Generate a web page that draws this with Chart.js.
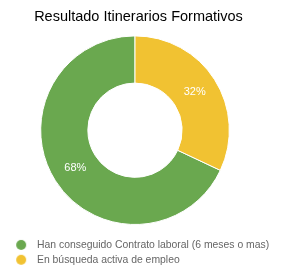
<!DOCTYPE html>
<html>
<head>
<meta charset="utf-8">
<script src="https://cdn.jsdelivr.net/npm/chart.js@4"></script>
<style>
html,body{margin:0;padding:0;background:#fff;}
#wrap{width:285px;height:272px;position:relative;}
</style>
</head>
<body>
<div id="wrap"><canvas id="c"></canvas></div>
<script>
const chartTitle = "Resultado Itinerarios Formativos";
const categories = ["Han conseguido Contrato laboral (6 meses o mas)", "En búsqueda activa de empleo"];
const values = [68, 32];
const colors = ["#6aa84f", "#f1c232"];

const FONT = '"Liberation Sans", Arial, sans-serif';

function dot(color) {
  const c = document.createElement('canvas');
  c.width = 12; c.height = 12;
  const g = c.getContext('2d');
  g.fillStyle = color;
  g.beginPath();
  g.arc(6, 6, 5, 0, Math.PI * 2);
  g.fill();
  return c;
}
const dots = colors.map(dot);

const pctLabels = {
  id: 'pctLabels',
  afterDatasetsDraw(chart) {
    const ctx = chart.ctx;
    const meta = chart.getDatasetMeta(0);
    const total = values.reduce((a, b) => a + b, 0);
    ctx.save();
    ctx.fillStyle = '#ffffff';
    ctx.font = '11px ' + FONT;
    ctx.textAlign = 'center';
    ctx.textBaseline = 'middle';
    meta.data.forEach((arc, i) => {
      const p = arc.getCenterPoint();
      ctx.fillText(Math.round(values[i] / total * 100) + '%', p.x, p.y);
    });
    ctx.restore();
  }
};

// small empty layout box on the right so the doughnut sits slightly left of the title
const rightSpacer = {
  id: 'rightSpacer',
  beforeInit(chart) {
    if (!Chart.layouts) return;
    const box = {
      position: 'right', weight: 100, fullSize: false,
      left: 0, top: 0, right: 0, bottom: 0, width: 0, height: 0,
      options: { display: true },
      isHorizontal() { return false; },
      update(maxWidth, maxHeight) { this.width = 7; this.height = maxHeight; },
      draw() {}
    };
    Chart.layouts.addBox(chart, box);
  }
};

new Chart(document.getElementById('c'), {
  type: 'doughnut',
  data: {
    labels: categories,
    datasets: [{
      data: values,
      backgroundColor: colors,
      pointStyle: dots,
      borderColor: '#ffffff',
      borderWidth: 1
    }]
  },
  options: {
    responsive: true,
    maintainAspectRatio: false,
    animation: false,
    cutout: '50%',
    rotation: 360 * values[1] / (values[0] + values[1]),
    layout: { padding: { left: 6, right: 14, top: 0, bottom: -3 } },
    plugins: {
      title: {
        display: true,
        text: chartTitle,
        color: '#000000',
        font: { family: FONT, size: 14.5, weight: 'normal' },
        padding: { top: 8, bottom: 10 }
      },
      legend: {
        position: 'bottom',
        align: 'start',
        title: { display: true, text: '', font: { size: 1 }, padding: { top: 9, bottom: 0 } },
        labels: {
          usePointStyle: true,
          pointStyleWidth: 21.3,
          boxHeight: 10,
          padding: 4.5,
          color: '#222222',
          font: { family: FONT, size: 10.4 },
          generateLabels(chart) {
            return categories.map((t, i) => ({
              text: t,
              fillStyle: colors[i],
              strokeStyle: colors[i],
              lineWidth: 0,
              pointStyle: dots[i],
              hidden: false,
              index: i,
              datasetIndex: 0
            }));
          }
        }
      },
      tooltip: { enabled: false }
    }
  },
  plugins: [pctLabels, rightSpacer]
});
</script>
</body>
</html>
